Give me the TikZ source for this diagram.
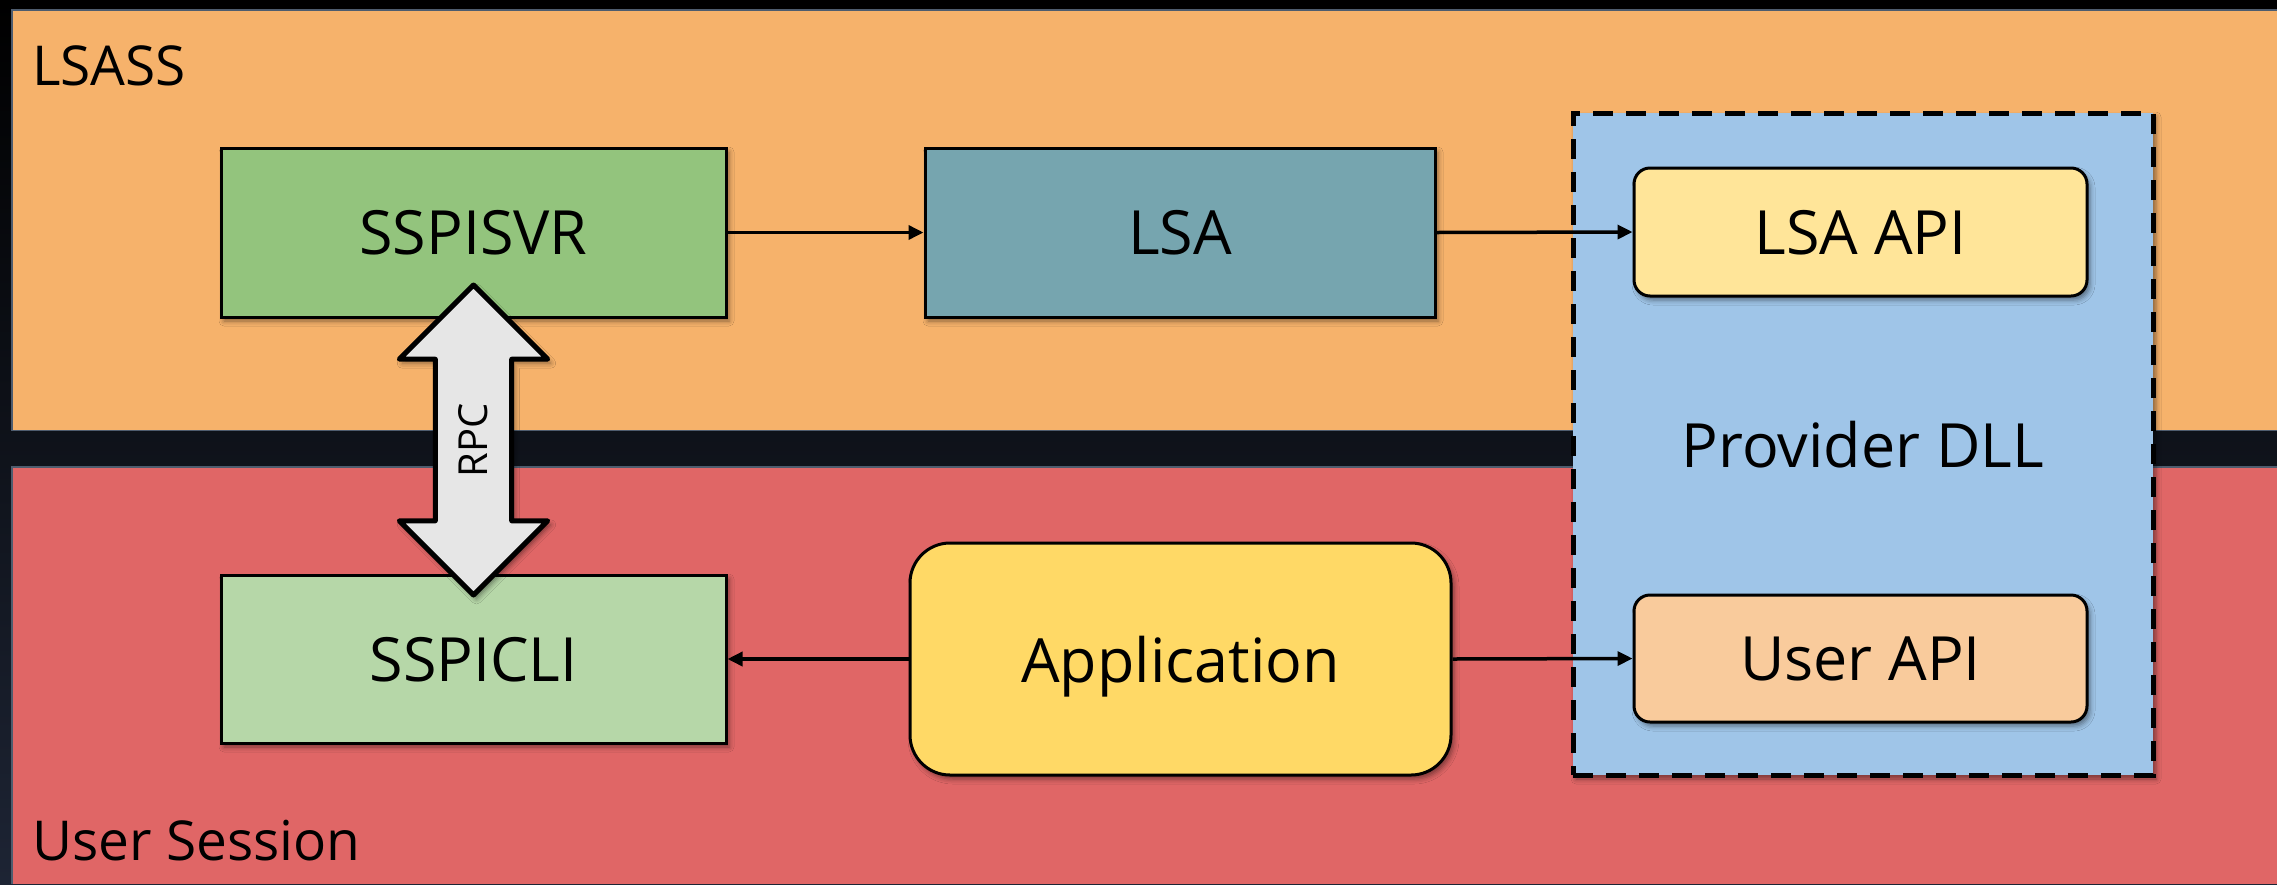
\documentclass[tikz,border=0pt]{standalone}
\usepackage{fontspec}
\setmainfont{Open Sans}
\usetikzlibrary{shapes.arrows,arrows.meta,shadows.blur}

\definecolor{lsassband}{HTML}{F6B26B}
\definecolor{userband}{HTML}{E06666}
\definecolor{bandedge}{HTML}{4E5C6E}
\definecolor{svrgreen}{HTML}{93C47D}
\definecolor{cligreen}{HTML}{B6D7A8}
\definecolor{lsateal}{HTML}{76A5AF}
\definecolor{appyellow}{HTML}{FFD966}
\definecolor{provblue}{HTML}{9FC5E8}
\definecolor{lsaapi}{HTML}{FFE599}
\definecolor{userapi}{HTML}{F9CB9C}
\definecolor{rpcgrey}{HTML}{E6E6E6}
\definecolor{bgtop}{HTML}{000000}
\definecolor{bgbottom}{HTML}{1D2434}

\newcommand{\boxfont}{\fontsize{61}{66}\selectfont}
\newcommand{\bandfont}{\fontsize{55}{60}\selectfont}
\newcommand{\rpcfont}{\fontsize{40}{44}\selectfont}

\begin{document}
\begin{tikzpicture}[x=1pt,y=-1pt,
  softshadow/.style={blur shadow={shadow xshift=3pt,shadow yshift=-4pt,
      shadow blur radius=5pt,shadow opacity=45}},
  procbox/.style={draw=black,line width=3pt,inner sep=0pt,text depth=0pt,
      font=\boxfont,softshadow},
  apibox/.style={procbox,rounded corners=16pt},
  conn/.style={line width=3.5pt,-{Triangle[length=15pt,width=14pt]}},
  bandlabel/.style={anchor=base west,inner sep=0pt,font=\bandfont}]

  % frame and the two bands
  \path[top color=bgtop,bottom color=bgbottom] (0,0) rectangle (2277,884);
  \useasboundingbox (0,0) rectangle (2277,884);
  \fill[bandedge] (11,9) rectangle (2277,431);
  \fill[lsassband] (12.5,10.5) rectangle (2277,429.5);
  \fill[bandedge] (11,466) rectangle (2277,884);
  \fill[userband] (12.5,467.5) rectangle (2277,884);
  \node[bandlabel] (lsass) at (32,85) {LSASS};
  \node[bandlabel] (session) at (32,860) {User Session};

  % provider DLL spanning both bands
  \node[draw=black,fill=provblue,line width=5pt,dash pattern=on 20pt off 13pt,
        minimum width=580pt,minimum height=662pt,inner sep=0pt,text depth=0pt,
        font=\boxfont,softshadow]
        (provider) at (1863,444) {Provider DLL};

  % components
  \node[procbox,fill=svrgreen,minimum width=505pt,minimum height=169pt]
        (sspisvr) at (473.5,232.5) {SSPISVR};
  \node[procbox,fill=lsateal,minimum width=510pt,minimum height=169pt]
        (lsa) at (1180,232.5) {LSA};
  \node[procbox,fill=cligreen,minimum width=505pt,minimum height=168pt]
        (sspicli) at (473.5,659) {SSPICLI};
  \node[procbox,fill=appyellow,rounded corners=40pt,minimum width=541pt,minimum height=232pt]
        (app) at (1180.5,659) {Application};
  \node[apibox,fill=lsaapi,minimum width=453pt,minimum height=128pt]
        (lsaapi) at (1860.5,232) {LSA API};
  \node[apibox,fill=userapi,minimum width=453pt,minimum height=127pt]
        (userapi) at (1860.5,658.5) {User API};

  % RPC link between server and client
  \node[double arrow,draw=black,fill=rpcgrey,line width=5pt,line join=round,
        rotate=90,minimum height=310pt,double arrow head extend=36pt,
        double arrow tip angle=90,inner xsep=0pt,inner ysep=21pt,
        font=\rpcfont,softshadow] (rpc) at (473.5,440) {RPC};

  % calls
  \draw[conn] (sspisvr.east) -- (lsa.west);
  \draw[conn] (lsa.east) -- (lsaapi.west);
  \draw[conn] (app.west) -- (sspicli.east);
  \draw[conn] (app.east) -- (userapi.west);
\end{tikzpicture}
\end{document}
